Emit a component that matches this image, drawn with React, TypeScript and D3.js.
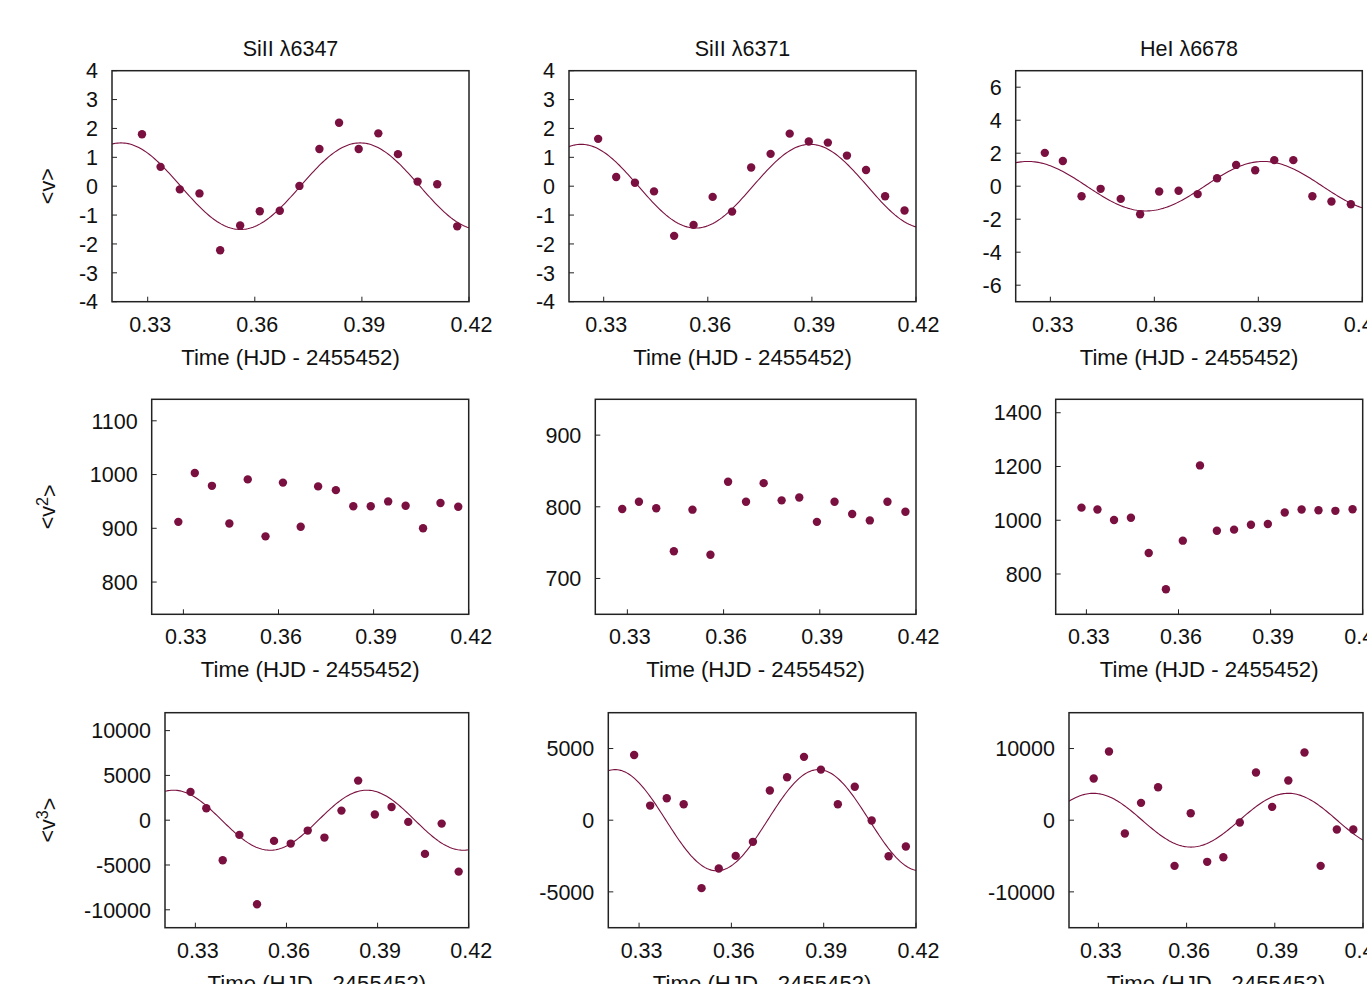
import React from 'react';
import * as d3 from 'd3';

// observation times (HJD - 2455452), same for every line
const times = [0.3284, 0.3336, 0.3390, 0.3445, 0.3503, 0.3559, 0.3614, 0.3670, 0.3725,
  0.3781, 0.3836, 0.3891, 0.3946, 0.4001, 0.4056, 0.4111, 0.4167];

const lineNames = ['SiII λ6347', 'SiII λ6371', 'HeI λ6678'];

// first moment <v>
const v1Si6347 = [1.80, 0.67, -0.11, -0.25, -2.22, -1.36, -0.87, -0.85, 0.01, 1.29, 2.20, 1.29, 1.83, 1.11, 0.16, 0.07, -1.39];
const v1Si6371 = [1.64, 0.32, 0.12, -0.18, -1.72, -1.34, -0.37, -0.88, 0.65, 1.12, 1.82, 1.55, 1.51, 1.06, 0.56, -0.35, -0.84];
const v1He6678 = [2.02, 1.53, -0.61, -0.16, -0.77, -1.70, -0.32, -0.28, -0.48, 0.48, 1.29, 0.97, 1.58, 1.58, -0.61, -0.93, -1.09];

// second moment <v^2>
const v2Si6347 = [912, 1003, 979, 909, 991, 885, 985, 903, 978, 971, 941, 941, 950, 942, 900, 947, 940];
const v2Si6371 = [797, 807, 798, 738, 796, 733, 835, 807, 833, 809, 813, 779, 807, 790, 781, 807, 793];
const v2He6678 = [1047, 1040, 1001, 1009, 878, 743, 924, 1204, 961, 965, 983, 986, 1029, 1040, 1037, 1035, 1041];

// third moment <v^3>
const v3Si6347 = [3160, 1340, -4470, -1640, -9380, -2310, -2610, -1160, -1940, 1070, 4420, 630, 1480, -190, -3760, -380, -5740];
const v3Si6371 = [4550, 1020, 1530, 1110, -4740, -3370, -2490, -1510, 2070, 3000, 4420, 3530, 1110, 2330, -20, -2510, -1830];
const v3He6678 = [5810, 9580, -1860, 2420, 4600, -6370, 980, -5810, -5160, -330, 6650, 1860, 5530, 9440, -6370, -1300, -1300];

// sine fits: [amplitude, time of maximum, period]
const fitV1 = [[1.5, 0.3225, 0.067], [1.45, 0.3235, 0.066], [1.5, 0.3235, 0.068]];
const fitV3 = [[3350, 0.3228, 0.0636], [3530, 0.3222, 0.0661], [3750, 0.3283, 0.0663]];

const xTicks = [0.33, 0.36, 0.39, 0.42];
const yTicksV1 = [[-4, -3, -2, -1, 0, 1, 2, 3, 4], [-4, -3, -2, -1, 0, 1, 2, 3, 4], [-6, -4, -2, 0, 2, 4, 6]];
const yTicksV2 = [[800, 900, 1000, 1100], [700, 800, 900], [800, 1000, 1200, 1400]];
const yTicksV3 = [[-10000, -5000, 0, 5000, 10000], [-5000, 0, 5000], [-10000, 0, 10000]];
const yDomV1 = [[-4, 4], [-4, 4], [-7, 7]];
const yDomV2 = [[740, 1140], [650, 950], [650, 1450]];
const yDomV3 = [[-12000, 12000], [-7500, 7500], [-15000, 15000]];

const W = 1367;
const H = 984;
const FONT = '"Liberation Sans", Arial, Helvetica, sans-serif';
const FS = 21.5;
const DOT = '#7a1040';
const INK = '#222';

// frame boxes [left, right] per column, [top, bottom] per row
const rowsY = [[70.7, 301.7], [399.3, 614.3], [712.7, 927.7]];
const colsX = [
  [[112, 469], [569, 916], [1015.7, 1362.3]],
  [[151.7, 468.7], [595.3, 916], [1055.7, 1362.7]],
  [[165, 468.7], [608.3, 916], [1069, 1363]],
];

type PanelProps = {
  row: number; col: number; values: number[]; yDomain: number[]; yTicks: number[];
  fit?: number[]; title?: string; ylabel?: React.ReactNode;
};

function Panel({ row, col, values, yDomain, yTicks, fit, title, ylabel }: PanelProps) {
  const [x0, x1] = colsX[row][col];
  const [y0, y1] = rowsY[row];
  const x = d3.scaleLinear().domain([0.32, 0.42]).range([x0, x1]);
  const y = d3.scaleLinear().domain(yDomain).range([y1, y0]);
  const cx = (x0 + x1) / 2;

  let curve: string | null = null;
  if (fit) {
    const [amp, tMax, per] = fit;
    const pts = d3.range(0.32, 0.42001, 0.0005).map(t => [t, amp * Math.cos(2 * Math.PI * (t - tMax) / per)] as [number, number]);
    curve = d3.line<[number, number]>().x(d => x(d[0])).y(d => y(d[1]))(pts);
  }

  return (
    <g fontFamily={FONT} fontSize={FS} fill="#111">
      {title && <text x={cx} y={y0 - 15} textAnchor="middle">{title}</text>}
      {ylabel && (
        <text transform={`translate(${55},${(y0 + y1) / 2}) rotate(-90)`} textAnchor="middle">{ylabel}</text>
      )}
      {yTicks.map(t => (
        <g key={'y' + t}>
          <line x1={x0} x2={x0 + 5} y1={y(t)} y2={y(t)} stroke={INK} strokeWidth={1} />
          <text x={x0 - 14} y={y(t)} dy="0.36em" textAnchor="end">{String(t)}</text>
        </g>
      ))}
      {xTicks.map(t => (
        <g key={'x' + t}>
          <line x1={x(t)} x2={x(t)} y1={y1} y2={y1 - 5} stroke={INK} strokeWidth={1} />
          <text x={x(t) + 2.5} y={y1 + 30} textAnchor="middle">{String(t)}</text>
        </g>
      ))}
      <text x={cx} y={y1 + 63} textAnchor="middle" fontSize={22.2}>Time (HJD - 2455452)</text>
      <defs>
        <clipPath id={`clip-${row}-${col}`}>
          <rect x={x0} y={y0} width={x1 - x0} height={y1 - y0} />
        </clipPath>
      </defs>
      {curve && <path d={curve} fill="none" stroke={DOT} strokeWidth={1.1} clipPath={`url(#clip-${row}-${col})`} />}
      {values.map((v, i) => (
        <circle key={i} cx={x(times[i])} cy={y(v)} r={4.2} fill={DOT} />
      ))}
      <rect x={x0} y={y0} width={x1 - x0} height={y1 - y0} fill="none" stroke={INK} strokeWidth={1.5} />
    </g>
  );
}

export default function App() {
  const v1 = [v1Si6347, v1Si6371, v1He6678];
  const v2 = [v2Si6347, v2Si6371, v2He6678];
  const v3 = [v3Si6347, v3Si6371, v3He6678];
  const sup = (n: string) => (
    <>{'<v'}<tspan dy="-0.45em" fontSize={FS * 0.75}>{n}</tspan><tspan dy="0.45em">{'>'}</tspan></>
  );
  return (
    <svg width={W} height={H} style={{ position: 'absolute', left: 0, top: 0, background: '#fff' }}>
      {[0, 1, 2].map(c => (
        <Panel key={'a' + c} row={0} col={c} values={v1[c]} yDomain={yDomV1[c]} yTicks={yTicksV1[c]}
          fit={fitV1[c]} title={lineNames[c]} ylabel={c === 0 ? '<v>' : undefined} />
      ))}
      {[0, 1, 2].map(c => (
        <Panel key={'b' + c} row={1} col={c} values={v2[c]} yDomain={yDomV2[c]} yTicks={yTicksV2[c]}
          ylabel={c === 0 ? sup('2') : undefined} />
      ))}
      {[0, 1, 2].map(c => (
        <Panel key={'c' + c} row={2} col={c} values={v3[c]} yDomain={yDomV3[c]} yTicks={yTicksV3[c]}
          fit={fitV3[c]} ylabel={c === 0 ? sup('3') : undefined} />
      ))}
    </svg>
  );
}
